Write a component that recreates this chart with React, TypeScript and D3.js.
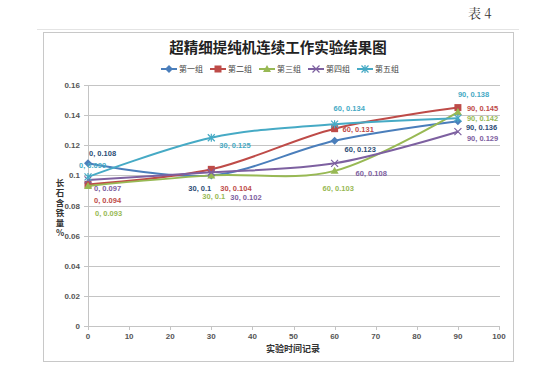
import React from "react";
import * as d3 from "d3";

const xValues = [0, 30, 60, 90];
const seriesNames = ["第一组", "第二组", "第三组", "第四组", "第五组"];
const group1 = [0.108, 0.1, 0.123, 0.136];
const group2 = [0.094, 0.104, 0.131, 0.145];
const group3 = [0.093, 0.1, 0.103, 0.142];
const group4 = [0.097, 0.102, 0.108, 0.129];
const group5 = [0.099, 0.125, 0.134, 0.138];
const xTicks = [0, 10, 20, 30, 40, 50, 60, 70, 80, 90, 100];
const yTicks = [0, 0.02, 0.04, 0.06, 0.08, 0.1, 0.12, 0.14, 0.16];

const lineColors = ["#4A7EBB", "#BE4B48", "#98B954", "#7D60A0", "#46AAC5"];
const labelColors = ["#2C4D75", "#BE4B48", "#98B954", "#7D60A0", "#46AAC5"];
const markers = ["diamond", "square", "triangle", "x", "star"];
// label offsets (dx, dy) relative to each point, per series
const labelOffsets = [
  [[1, -10], [-23, 13], [10, 8], [8, 6]],
  [[6, 16], [9, 19], [8, 0], [9, 0]],
  [[7, 27], [-9, 21], [-12, 17], [9, 6]],
  [[6, 8], [19, 25], [21, 10], [9, 6]],
  [[-9, -12], [8, 7], [-1, -16], [0, -24]],
];

const W = 554, H = 373;
const x = d3.scaleLinear().domain([0, 100]).range([88, 499]);
const y = d3.scaleLinear().domain([0, 0.16]).range([326, 85]);

function Marker({ type, cx, cy, color }: { type: string; cx: number; cy: number; color: string }) {
  if (type === "diamond") {
    const s = 4;
    return <path d={`M${cx},${cy - s}L${cx + s},${cy}L${cx},${cy + s}L${cx - s},${cy}Z`} fill={color} />;
  }
  if (type === "square") {
    return <rect x={cx - 3.5} y={cy - 3.5} width={7} height={7} fill={color} />;
  }
  if (type === "triangle") {
    return <path d={`M${cx},${cy - 4}L${cx + 4},${cy + 3}L${cx - 4},${cy + 3}Z`} fill={color} />;
  }
  if (type === "x") {
    return <path d={`M${cx - 3.5},${cy - 3.5}L${cx + 3.5},${cy + 3.5}M${cx + 3.5},${cy - 3.5}L${cx - 3.5},${cy + 3.5}`} stroke={color} strokeWidth={1.2} />;
  }
  return (
    <path
      d={`M${cx - 3.5},${cy - 3.5}L${cx + 3.5},${cy + 3.5}M${cx + 3.5},${cy - 3.5}L${cx - 3.5},${cy + 3.5}M${cx},${cy - 4}L${cx},${cy + 4}`}
      stroke={color}
      strokeWidth={1.2}
    />
  );
}

export default function App() {
  const data = [group1, group2, group3, group4, group5];
  const line = d3
    .line<[number, number]>()
    .x((d) => x(d[0]))
    .y((d) => y(d[1]))
    .curve(d3.curveCardinal.tension(0));
  const font = "'Liberation Sans', 'DejaVu Sans', sans-serif";
  const cjk = "'Noto Sans CJK SC', sans-serif";
  const legendX0 = 161;
  const legendStep = 49;
  return (
    <svg width={W} height={H} style={{ position: "absolute", left: 0, top: 0, background: "#fff" }}>
      <rect x={0} y={0} width={W} height={H} fill="#fff" />
      <text x={468} y={18} fontFamily="'Noto Serif CJK SC', 'Noto Sans CJK SC', serif" fontSize={13} fill="#333">表 4</text>
      <line x1={37} x2={519} y1={29.5} y2={29.5} stroke="#e4e4e4" strokeWidth={1} />
      <rect x={43.5} y={32.5} width={470} height={329} fill="#fff" stroke="#c8c8c8" strokeWidth={1} />
      <text x={278} y={53} textAnchor="middle" fontFamily={cjk} fontWeight={700} fontSize={14.5} fill="#222">
        超精细提纯机连续工作实验结果图
      </text>
      {seriesNames.map((name, i) => {
        const lx = legendX0 + i * legendStep;
        return (
          <g key={name}>
            <line x1={lx} x2={lx + 16} y1={69} y2={69} stroke={lineColors[i]} strokeWidth={2} />
            <Marker type={markers[i]} cx={lx + 8} cy={69} color={lineColors[i]} />
            <text x={lx + 18} y={72} fontFamily={cjk} fontSize={8} fill="#444">{name}</text>
          </g>
        );
      })}
      {yTicks.map((t) => (
        <g key={t}>
          <line x1={84} x2={t === 0 ? 499 : 500} y1={Math.round(y(t)) + 0.5} y2={Math.round(y(t)) + 0.5} stroke="#c4c4c4" strokeWidth={1} />
          <text x={80} y={y(t) + 3} textAnchor="end" fontFamily={font} fontWeight={700} fontSize={8} fill="#555">{t}</text>
        </g>
      ))}
      <line x1={88.5} x2={88.5} y1={85} y2={326} stroke="#c4c4c4" strokeWidth={1} />
      {xTicks.map((t) => (
        <g key={t}>
          <line x1={Math.round(x(t)) + 0.5} x2={Math.round(x(t)) + 0.5} y1={326} y2={330} stroke="#c4c4c4" strokeWidth={1} />
          <text x={x(t)} y={339} textAnchor="middle" fontFamily={font} fontWeight={700} fontSize={8} fill="#555">{t}</text>
        </g>
      ))}
      <text x={293} y={352} textAnchor="middle" fontFamily={cjk} fontWeight={700} fontSize={9} fill="#333">实验时间记录</text>
      <text
        x={60}
        y={179}
        fontFamily={cjk}
        fontWeight={700}
        fontSize={8.5}
        fill="#333"
        letterSpacing={1.5}
        style={{ writingMode: "vertical-rl", textOrientation: "upright" } as React.CSSProperties}
      >
        长石含铁量%
      </text>
      {data.map((vals, si) => {
        const pts: [number, number][] = vals.map((v, j) => [xValues[j], v]);
        return (
          <g key={si}>
            <path d={line(pts) || ""} fill="none" stroke={lineColors[si]} strokeWidth={2} />
            {pts.map((p, j) => (
              <Marker key={j} type={markers[si]} cx={x(p[0])} cy={y(p[1])} color={lineColors[si]} />
            ))}
          </g>
        );
      })}
      {data.map((vals, si) =>
        vals.map((v, j) => (
          <text
            key={`${si}-${j}`}
            x={x(xValues[j]) + labelOffsets[si][j][0]}
            y={y(v) + labelOffsets[si][j][1] + 3}
            fontFamily={font}
            fontWeight={700}
            fontSize={7.5}
            fill={labelColors[si]}
          >
            {`${xValues[j]}, ${v}`}
          </text>
        ))
      )}
    </svg>
  );
}
